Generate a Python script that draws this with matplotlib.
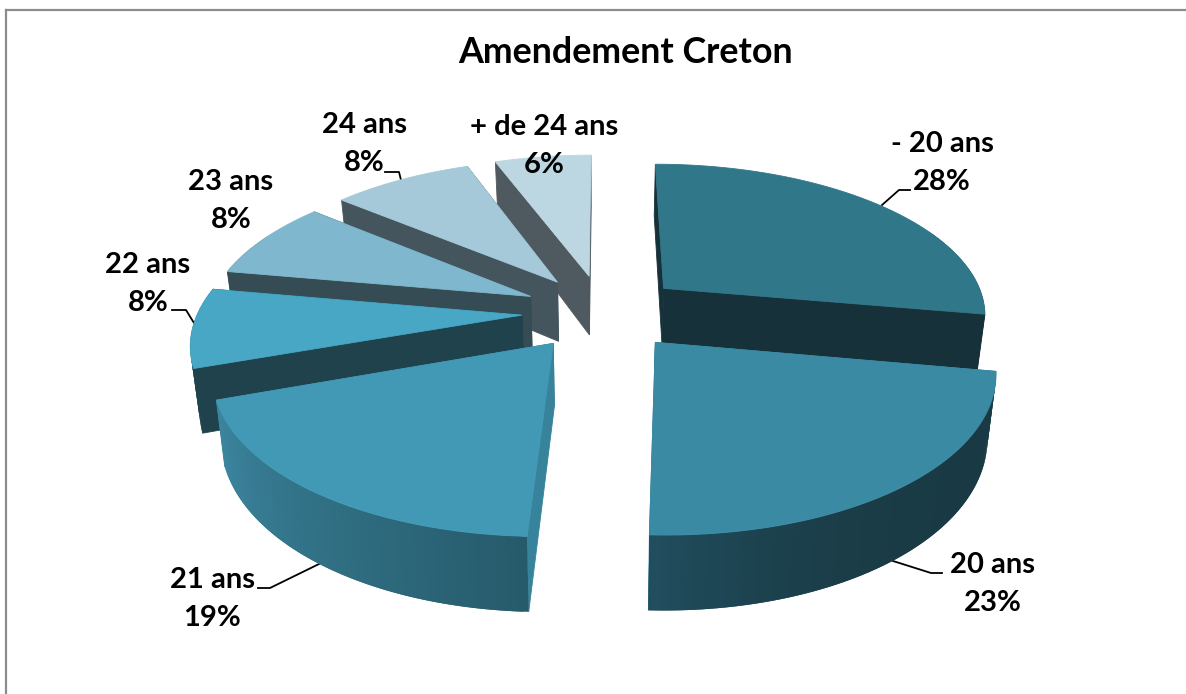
import numpy as np
import matplotlib
matplotlib.use("Agg")
import matplotlib.pyplot as plt
from matplotlib.colors import to_rgb
from matplotlib.patches import Polygon

# data (labels show them rounded)
categories = ["- 20 ans", "20 ans", "21 ans", "22 ans", "23 ans", "24 ans", "+ de 24 ans"]
shares = [27.8, 22.85, 18.95, 8.2, 8.2, 8.3, 5.7]

# colours per slice: top, side walls, outer wall (start of arc, end of arc)
top_colors = ["#31778a", "#3a8aa3", "#4299b5", "#48a7c4", "#7fb8ce", "#a5c9d9", "#bdd7e2"]
wall_colors = ["#17313b", "#37839b", "#37839b", "#1f424d", "#364c55", "#44555d", "#4f5a60"]
arc_colors = [("#17313b", "#17313b"), ("#193a44", "#214e5f"), ("#265b6b", "#3c86a0"),
              ("#1f424d", "#1f424d"), ("#364c55", "#364c55"), ("#44555d", "#44555d"), ("#4f5a60", "#4f5a60")]
arc_power = [1, 4, 1, 1, 1, 1, 1]

# layout in pixels
cx, cy = 603, 312
scale_x, scale_y = 324, 151
persp = 0.16
height = 61
explode = 0.25
converge = 0.022

plt.rcParams["font.family"] = ["Lato", "DejaVu Sans"]
plt.rcParams["font.weight"] = "bold"

fig = plt.figure(figsize=(11.86, 6.94), dpi=100)
ax = fig.add_axes([0, 0, 1, 1])
ax.set_xlim(0, 1186)
ax.set_ylim(694, 0)
ax.axis("off")


def project(x, y, drop=0.0):
    w = 1 + persp * y
    narrow = 1 - converge * drop / height
    return cx + scale_x * x / w * narrow, cy - scale_y * y / w + drop / w


def face(points, color, z):
    ax.add_patch(Polygon(points, closed=True, fc=color, ec=color, lw=0.6, zorder=z))


# angle is clockwise from the top
ends = np.cumsum(shares) / np.sum(shares) * 2 * np.pi
starts = np.concatenate([[0], ends[:-1]])
draw_order = [6, 5, 4, 3, 0, 2, 1]

for n, i in enumerate(draw_order):
    a0, a1 = starts[i], ends[i]
    mid = (a0 + a1) / 2
    ox, oy = explode * np.sin(mid), explode * np.cos(mid)
    arc = np.linspace(a0, a1, 90)
    xs = ox + np.sin(arc)
    ys = oy + np.cos(arc)
    z = 10 + n * 5

    # radial walls, the one further back goes first
    for a in sorted([a0, a1], key=lambda t: -np.cos(t)):
        ex, ey = ox + np.sin(a), oy + np.cos(a)
        wall = [project(ox, oy), project(ex, ey), project(ex, ey, height), project(ox, oy, height)]
        face(wall, wall_colors[i], z)

    # outer wall in strips that overlap, so no stripes show between them
    c0, c1 = np.array(to_rgb(arc_colors[i][0])), np.array(to_rgb(arc_colors[i][1]))
    for k in range(len(arc) - 1):
        if np.cos(arc[k]) > 0.35 and abs(np.sin(arc[k])) < 0.9:
            continue
        t = (k / (len(arc) - 2)) ** arc_power[i]
        m = min(k + 2, len(arc) - 1)
        strip = [project(xs[j], ys[j]) for j in range(k, m + 1)]
        strip += [project(xs[j], ys[j], height) for j in range(m, k - 1, -1)]
        ax.add_patch(Polygon(strip, closed=True, fc=tuple(c0 + (c1 - c0) * t), ec="none", zorder=z + 1))

    # top
    top = [project(ox, oy)] + [project(x, y) for x, y in zip(xs, ys)]
    face(top, top_colors[i], z + 2)

# frame of the chart, only top and left show
ax.plot([6, 1186], [10, 10], color="#8c8c8c", lw=1.6, zorder=1)
ax.plot([6, 6], [10, 694], color="#8c8c8c", lw=1.6, zorder=1)

ax.text(626, 52, "Amendement Creton", fontsize=25.8, ha="center", va="center", color="black")

label_pos = [(942, 163), (993, 584), (212, 599), (148, 284), (231, 201), (364, 144), (544, 146)]
for name, share, (lx, ly) in zip(categories, shares, label_pos):
    ax.text(lx, ly, f"{name}\n{share:.0f}%", fontsize=21, ha="center", va="center",
            color="black", linespacing=1.58, zorder=100)

# leader lines
segments = [
    ([882, 899, 910], [205, 190, 190]),
    ([893, 931, 942], [561, 573, 573]),
    ([319, 270, 258], [564, 588, 588]),
    ([172, 186, 194], [310, 310, 323]),
    ([385, 399, 401], [172, 172, 180]),
]
for sx, sy in segments:
    ax.plot(sx, sy, color="black", lw=1.3, zorder=5)

fig.savefig("out.png", dpi=100)
